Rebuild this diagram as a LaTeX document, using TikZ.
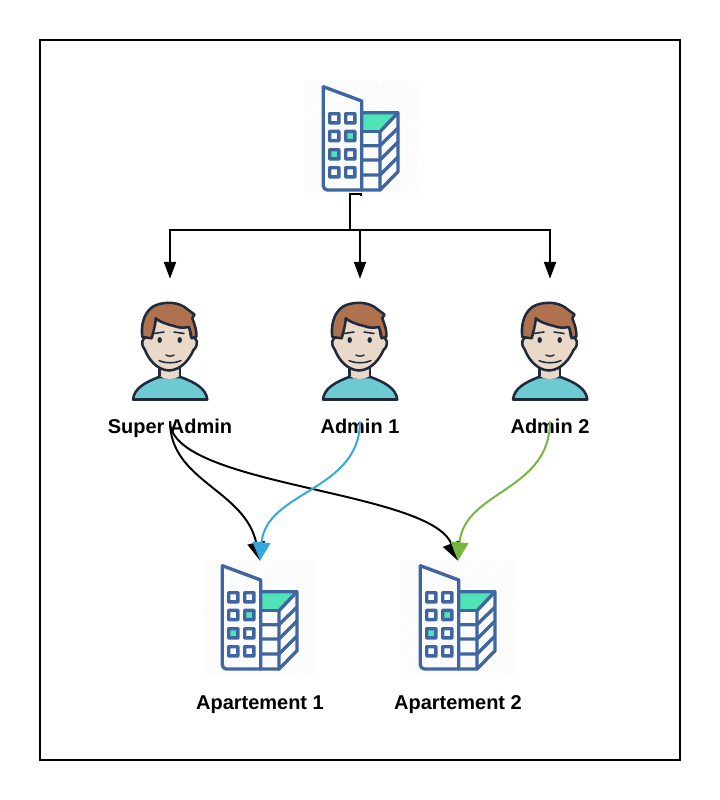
\documentclass[tikz,border=0pt]{standalone}
\usepackage{fontspec}
\setmainfont{Liberation Sans}
\usetikzlibrary{arrows.meta,patterns}

\definecolor{wallblue}{HTML}{3F66A3}
\definecolor{roofgreen}{HTML}{4FE3B6}
\definecolor{inkdark}{HTML}{1E2B3C}
\definecolor{skintone}{HTML}{EAD8C8}
\definecolor{hairbrown}{HTML}{B0714F}
\definecolor{shirtteal}{HTML}{6DC9D2}
\definecolor{linkblue}{HTML}{36A6DF}
\definecolor{linkgreen}{HTML}{76B53F}

\tikzset{
  buildingbox/.style={minimum width=2.85cm, minimum height=2.85cm, inner sep=0pt,
    pattern=north east lines, pattern color=black!4},
  personbox/.style={minimum width=2.85cm, minimum height=3.55cm, inner sep=0pt},
  caption/.style={font=\fontsize{14.2}{17}\selectfont\bfseries, inner sep=0pt, anchor=base},
  link/.style={line width=1.4pt, -{Triangle[length=0.46cm,width=0.44cm]}},
  feed/.style={line width=1.4pt, -{Triangle[length=0.42cm,width=0.3cm]}},
  pics/windowicon/.style={code={
    \draw[wallblue, line width=2.4pt, fill=#1, rounded corners=0.3pt]
      (-4.6,-4.6) rectangle (4.6,4.6);
  }},
  pics/buildingicon/.style={code={
    \fill[roofgreen] (1,-25) -- (35,-25) -- (18,-8) -- (1,-8) -- cycle;
    \begin{scope}[wallblue, line width=2.4pt, line join=round, line cap=round]
    \draw (2,-26.3) -- (37,-26.3) -- (37,32.7) -- (19,51) -- (0.7,51);
    \draw (37,-26.3) -- (19,-7.3) -- (19,51);
    \draw (0.7,-7.3) -- (19,-7.3);
    \draw (0.7,6.7) -- (19,6.7) -- (37,-11);
    \draw (0.7,21) -- (19,21) -- (37,3);
    \draw (0.7,36) -- (19,36) -- (37,18);
    \draw[rounded corners=3pt] (0.7,51) -- (-37.7,51) -- (-37.7,-52.3);
    \draw (-37.7,-52.3) -- (0.7,-38) -- (0.7,51);
    \end{scope}
    \pic at (-26.7,-20.7) {windowicon=white};
    \pic at (-10.7,-20.7) {windowicon=white};
    \pic at (-26.7,-3) {windowicon=white};
    \pic at (-10.7,-3) {windowicon=roofgreen};
    \pic at (-26.7,15.3) {windowicon=roofgreen};
    \pic at (-10.7,15.3) {windowicon=white};
    \pic at (-26.7,33.3) {windowicon=white};
    \pic at (-10.7,33.3) {windowicon=white};
  }},
  pics/personicon/.style={code={
    \begin{scope}[inkdark, line width=1.8pt, line join=round, line cap=round]
    % shirt
    \draw[fill=shirtteal] (-37,49.5) .. controls (-36,38) and (-24,32) .. (-11,27)
      -- (10.5,27) .. controls (24,32) and (36,38) .. (37.3,49.5) -- cycle;
    % neck and face
    \fill[skintone] (-10.5,16) -- (-10.5,26) .. controls (-5,30) and (4,30) .. (10,26) -- (10,16) -- cycle;
    \draw (-10.5,16) -- (-10.5,26) (10,16) -- (10,26);
    \draw[fill=skintone] (-22,-13) .. controls (-29,-13) and (-29.5,-5) .. (-25,0)
      .. controls (-22,8) and (-14,20) .. (-1,20.5)
      .. controls (12,20) and (20,8) .. (23.5,0)
      .. controls (29,-5) and (28,-13) .. (21,-13)
      -- (18,-32) -- (-18,-32) -- cycle;
    % hair
    \draw[fill=hairbrown] (-18.3,-11.7) -- (-27.7,-13)
      .. controls (-29,-24) and (-27,-36) .. (-17.7,-43)
      .. controls (-10,-48) and (5,-49) .. (14,-43.3)
      -- (24.5,-35.5) -- (22.3,-31.7)
      .. controls (25,-25) and (27,-18) .. (26.3,-13.3) -- (21.7,-11.7)
      .. controls (21,-16) and (20,-20) .. (19,-23)
      .. controls (13,-22) and (9,-22) .. (4,-24)
      .. controls (-4,-26) and (-10,-28) .. (-14.3,-31.7)
      .. controls (-14.5,-24) and (-17,-18) .. cycle;
    % features
    \fill (-10.3,-10) ellipse (2.2 and 3);
    \fill (9.7,-10) ellipse (2.2 and 3);
    \draw[line width=1.1pt] (-16,-16.5) -- (-6,-18);
    \draw[line width=1.1pt] (4,-18) -- (14,-16.5);
    \draw[line width=1pt] (-4,5) .. controls (-2,6.5) and (2,6.5) .. (4,5);
    \draw[line width=1.1pt] (-11,10.5) .. controls (-5,13.5) and (5,13.5) .. (11,10.5);
    \end{scope}
  }}
}

\begin{document}
\begin{tikzpicture}[x=0.025cm, y=-0.025cm]
    \useasboundingbox (0,0) rectangle (720,800);
    \draw[line width=1.4pt] (40,40) rectangle (680,760);

    \node[buildingbox] (company) at (361,139) {};
    \node[personbox] (superadmin) at (170,350) {};
    \node[personbox] (adminone)   at (360,350) {};
    \node[personbox] (admintwo)   at (550,350) {};
    \node[buildingbox] (aptone) at (260,618) {};
    \node[buildingbox] (apttwo) at (458,618) {};

    \pic at (company) {buildingicon};
    \pic at (aptone) {buildingicon};
    \pic at (apttwo) {buildingicon};
    \pic at (superadmin) {personicon};
    \pic at (adminone) {personicon};
    \pic at (admintwo) {personicon};

    \node[caption] (superlabel) at (170,433) {Super Admin};
    \node[caption] (onelabel)   at (360,433) {Admin 1};
    \node[caption] (twolabel)   at (550,433) {Admin 2};
    \node[caption] (aptonelabel) at (260,709) {Apartement 1};
    \node[caption] (apttwolabel) at (458,709) {Apartement 2};

    \coordinate (split) at (350,230);
    \draw[line width=1.4pt] (company.south) -- ++(0,-2) -| (split);
    \draw[feed] (split) -| (superadmin.north);
    \draw[feed] (split) -| (adminone.north);
    \draw[feed] (split) -| (admintwo.north);

    \draw[link] (superadmin.south) .. controls +(0,60) and +(-15,-71) .. (aptone.north);
    \draw[link] (superadmin.south) .. controls +(0,65) and +(-28,-71) .. (apttwo.north);
    \draw[link, linkblue] (adminone.south) .. controls +(0,70) and +(6,-70) .. (aptone.north);
    \draw[link, linkgreen] (admintwo.south) .. controls +(0,70) and +(6,-70) .. (apttwo.north);
\end{tikzpicture}
\end{document}
